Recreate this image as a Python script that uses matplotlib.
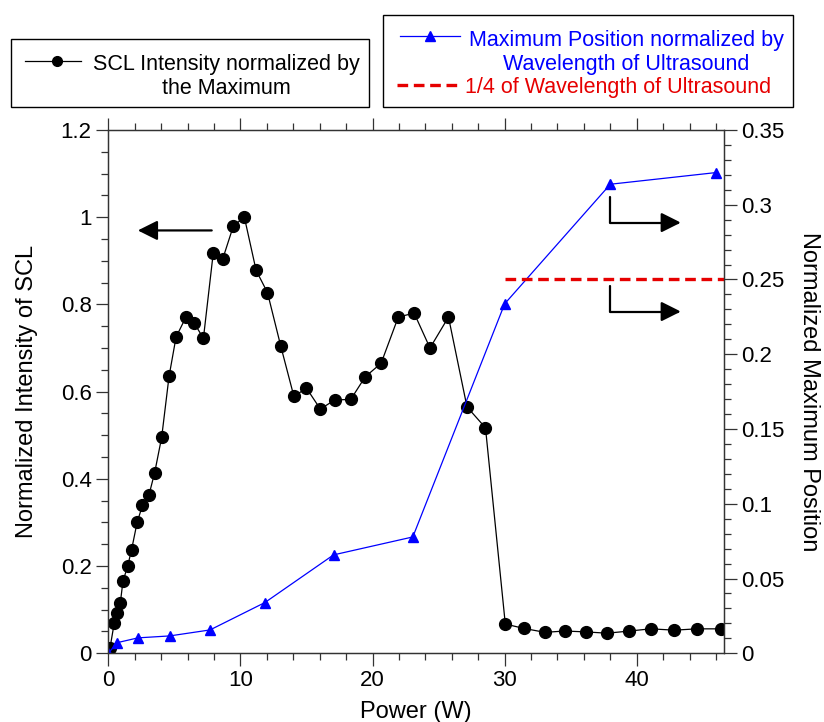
import matplotlib
matplotlib.use('Agg')
import matplotlib.pyplot as plt
from matplotlib.lines import Line2D
from matplotlib.patches import Rectangle
from matplotlib.ticker import MultipleLocator, FuncFormatter

plt.rcParams['font.family'] = ['Liberation Sans', 'DejaVu Sans']

# SCL intensity (left axis)
power_scl = [0.13, 0.45, 0.68, 0.91, 1.11, 1.46, 1.76, 2.19, 2.59, 3.08, 3.51, 4.04, 4.6,
             5.13, 5.88, 6.49, 7.2, 7.95, 8.66, 9.47, 10.3, 11.19, 12.05, 13.05, 14.05,
             15.0, 16.05, 17.15, 18.35, 19.45, 20.65, 21.95, 23.15, 24.35, 25.75, 27.15,
             28.55, 30.05, 31.45, 33.05, 34.55, 36.15, 37.75, 39.45, 41.05, 42.85, 44.55, 46.35]
scl_intensity = [0.012, 0.069, 0.092, 0.115, 0.165, 0.199, 0.237, 0.301, 0.339, 0.363, 0.414,
                 0.495, 0.635, 0.725, 0.771, 0.758, 0.722, 0.919, 0.904, 0.980, 1.0, 0.878,
                 0.827, 0.705, 0.589, 0.608, 0.560, 0.581, 0.582, 0.634, 0.665, 0.771, 0.780,
                 0.700, 0.771, 0.565, 0.517, 0.067, 0.057, 0.048, 0.051, 0.049, 0.046, 0.051,
                 0.056, 0.053, 0.056, 0.056]

# maximum position (right axis)
power_pos = [0, 0.68, 2.25, 4.65, 7.7, 11.85, 17.05, 23.05, 30.0, 38.0, 46.0]
max_position = [0, 0.0071, 0.0103, 0.0116, 0.0156, 0.0339, 0.0658, 0.0778, 0.2337, 0.3137, 0.3215]

# quarter wavelength reference
quarter_x = [30.0, 46.6]
quarter_y = [0.25, 0.25]

fig = plt.figure(figsize=(8.24, 7.22), dpi=100)
ax = fig.add_axes([0.1314, 0.0952, 0.7472, 0.7248])
ax2 = ax.twinx()

ax.plot(power_scl, scl_intensity, color='black', lw=0.9, marker='o', ms=8.5,
        markerfacecolor='black', markeredgecolor='black', zorder=3)
ax2.plot(power_pos, max_position, color='#0000ff', lw=0.9, marker='^', ms=7,
         markerfacecolor='#0000ff', markeredgecolor='#0000ff')
ax2.plot(quarter_x, quarter_y, color='#e60000', lw=2.4, linestyle=(0, (3.2, 1.7)))

ax.set_xlim(0, 46.6)
ax.set_ylim(0, 1.2)
ax2.set_ylim(0, 0.35)

fmt = FuncFormatter(lambda v, p: '%g' % round(v, 3))
ax.xaxis.set_major_locator(MultipleLocator(10))
ax.xaxis.set_minor_locator(MultipleLocator(2))
ax.yaxis.set_major_locator(MultipleLocator(0.2))
ax.yaxis.set_minor_locator(MultipleLocator(0.05))
ax.yaxis.set_major_formatter(fmt)
ax2.yaxis.set_major_locator(MultipleLocator(0.05))
ax2.yaxis.set_minor_locator(MultipleLocator(0.01))
ax2.yaxis.set_major_formatter(fmt)

for a in (ax, ax2):
    for s in a.spines.values():
        s.set_linewidth(0.9)
        s.set_color('#333333')
    a.tick_params(which='major', direction='out', length=9, width=0.9, color='#333333',
                  labelsize=16, pad=3)
    a.tick_params(which='minor', direction='out', length=5, width=0.9, color='#333333')
ax.tick_params(axis='x', which='both', top=True)

ax.set_xlabel('Power (W)', fontsize=17, labelpad=7)
ax.set_ylabel('Normalized Intensity of SCL', fontsize=17, labelpad=16)
ax2.set_ylabel('Normalized Maximum Position', fontsize=17, rotation=270, labelpad=26)

# direction arrows
ax.annotate('', xy=(0.048, 0.808), xytext=(0.168, 0.808), xycoords='axes fraction',
            arrowprops=dict(arrowstyle='-|>', color='black', lw=1.6, mutation_scale=30,
                            shrinkA=0, shrinkB=0))
for y0, y1 in [(0.871, 0.823), (0.701, 0.653)]:
    ax.annotate('', xy=(0.930, y1), xytext=(0.8146, y0), xycoords='axes fraction',
                arrowprops=dict(arrowstyle='-|>', color='black', lw=1.6, mutation_scale=30,
                                shrinkA=0, shrinkB=0,
                                connectionstyle='angle,angleA=-90,angleB=0,rad=0'))

# legend boxes drawn by hand (handles sit on first text line)
fs = 15.5
fig.add_artist(Rectangle((0.0134, 0.8518), 0.4345, 0.0942, transform=fig.transFigure,
                         fill=False, edgecolor='black', lw=1.0))
fig.add_artist(Line2D([0.0303, 0.0983], [0.9155, 0.9155], color='black', lw=0.9))
fig.add_artist(Line2D([0.0692], [0.9155], color='black', marker='o', ms=7))
fig.text(0.2743, 0.894, 'SCL Intensity normalized by\nthe Maximum', fontsize=fs,
         ha='center', va='center', multialignment='center', color='black')

fig.add_artist(Rectangle((0.4648, 0.8518), 0.4976, 0.1274, transform=fig.transFigure,
                         fill=False, edgecolor='black', lw=1.0))
fig.add_artist(Line2D([0.4854, 0.5583], [0.950, 0.950], color='#0000ff', lw=0.9))
fig.add_artist(Line2D([0.5218], [0.950], color='#0000ff', marker='^', ms=6.5))
fig.text(0.7597, 0.9274, 'Maximum Position normalized by\nWavelength of Ultrasound',
         fontsize=fs, ha='center', va='center', multialignment='center', color='#0000ff')
fig.add_artist(Line2D([0.4818, 0.5583], [0.8823, 0.8823], color='#e60000', lw=2.4,
                      linestyle=(0, (3.2, 1.7))))
fig.text(0.5643, 0.8785, '1/4 of Wavelength of Ultrasound', fontsize=fs,
         ha='left', va='center', color='#e60000')

fig.savefig('out.png', dpi=100)
